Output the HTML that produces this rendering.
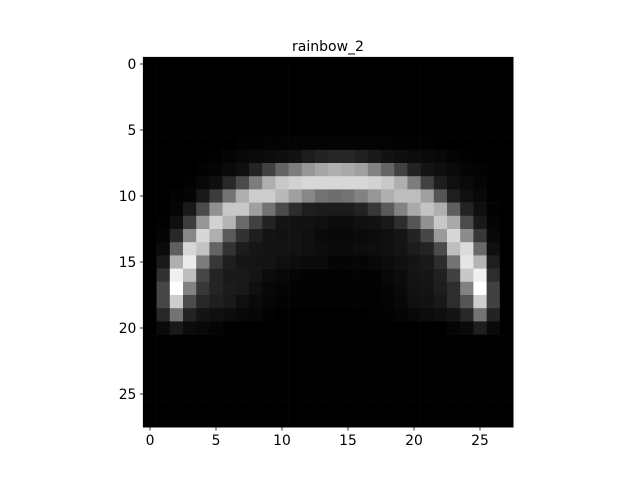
<!DOCTYPE html>
<html><head><meta charset="utf-8"><style>
html,body{margin:0;padding:0;background:#fff;}
svg{display:block;font-family:"DejaVu Sans","Liberation Sans",sans-serif;}
</style></head>
<body>
<svg id="chart" width="640" height="480" viewBox="0 0 640 480" xmlns="http://www.w3.org/2000/svg">
<rect width="640" height="480" fill="#fff"/>
<text x="328" y="51" text-anchor="middle" font-size="14" fill="#000">rainbow_2</text>
<g id="cells"></g>
<g id="xticks"></g>
<g id="yticks"></g>
<rect x="143.4" y="57.4" width="369.6" height="369.6" fill="none" stroke="#000" stroke-width="1"/>
</svg>
<script>
const xTickValues = [0,5,10,15,20,25];
const yTickValues = [0,5,10,15,20,25];
const leftHalf = [
[0,0,0,0,0,0,0,0,0,0,0,0,0,0],
[0,0,0,0,0,0,0,0,0,0,0,0,0,0],
[0,0,0,0,0,0,0,0,0,0,0,0,0,0],
[0,0,0,0,0,0,0,0,0,0,0,0,0,0],
[0,0,0,0,0,0,0,0,0,0,0,0,0,0],
[0,0,0,0,0,0,0,0,0,0,0,0,0,0],
[0,0,0,0,0,0,0,2,2,3,3,4,4,4],
[0,0,0,0,0,2,4,8,10,12,14,18,28,35],
[0,0,0,0,3,5,10,15,35,65,100,125,150,165],
[0,0,0,3,8,15,40,75,125,175,200,210,215,215],
[0,0,3,5,25,60,115,175,205,205,185,160,135,115],
[0,0,5,25,75,145,200,200,160,115,75,45,30,28],
[0,2,15,60,150,210,180,105,65,35,20,18,18,15],
[0,5,40,135,215,175,90,50,30,20,18,18,15,10],
[0,10,95,215,195,100,50,28,22,20,20,18,15,12],
[0,25,175,235,125,55,30,22,20,20,15,12,10,10],
[0,50,240,190,70,35,25,25,20,12,8,5,3,3],
[0,70,255,130,55,35,28,25,15,8,5,3,2,2],
[0,70,205,75,40,30,25,15,10,6,3,2,2,2],
[0,40,115,35,20,15,12,8,6,3,0,0,0,0],
[0,10,25,12,8,5,0,0,0,0,0,0,0,0],
[0,0,0,0,0,0,0,0,0,0,0,0,0,0],
[0,0,0,0,0,0,0,0,0,0,0,0,0,0],
[0,0,0,0,0,0,0,0,0,0,0,0,0,0],
[0,0,0,0,0,0,0,0,0,0,0,0,0,0],
[0,0,0,0,0,0,0,0,0,0,0,0,0,0],
[0,0,0,0,0,0,0,0,0,0,0,0,0,0],
[0,0,0,0,0,0,0,0,0,0,0,0,0,0]
];
const rightHalf = [
[0,0,0,0,0,0,0,0,0,0,0,0,0,0],
[0,0,0,0,0,0,0,0,0,0,0,0,0,0],
[0,0,0,0,0,0,0,0,0,0,0,0,0,0],
[0,0,0,0,0,0,0,0,0,0,0,0,0,0],
[0,0,0,0,0,0,0,0,0,0,0,0,0,0],
[0,0,0,0,0,0,0,0,0,0,0,0,0,0],
[4,4,4,4,3,3,2,2,0,0,0,0,0,0],
[38,38,32,25,18,14,12,10,8,4,2,0,0,0],
[175,170,160,130,100,65,35,20,15,10,5,3,0,0],
[215,215,215,210,200,175,125,65,30,15,10,5,0,0],
[110,115,130,150,175,190,190,160,85,30,15,8,0,0],
[28,28,35,55,90,130,170,195,175,95,35,15,3,0],
[12,12,15,18,25,45,85,145,200,170,75,25,5,0],
[8,8,10,12,15,20,35,70,155,215,140,55,8,0],
[10,10,12,14,16,20,28,35,75,190,220,105,15,0],
[5,5,5,8,12,15,20,25,45,115,230,180,30,0],
[3,3,3,3,8,12,20,22,32,65,200,240,45,0],
[2,2,2,2,5,10,18,20,30,45,130,255,65,0],
[2,2,2,2,4,8,15,18,25,45,85,205,65,0],
[0,0,0,2,3,5,8,12,15,20,40,115,35,0],
[0,0,0,0,0,0,0,0,0,5,10,30,10,0],
[0,0,0,0,0,0,0,0,0,0,0,0,0,0],
[0,0,0,0,0,0,0,0,0,0,0,0,0,0],
[0,0,0,0,0,0,0,0,0,0,0,0,0,0],
[0,0,0,0,0,0,0,0,0,0,0,0,0,0],
[0,0,0,0,0,0,0,0,0,0,0,0,0,0],
[0,0,0,0,0,0,0,0,0,0,0,0,0,0],
[0,0,0,0,0,0,0,0,0,0,0,0,0,0]
];

const NS = "http://www.w3.org/2000/svg";
const X0 = 143.4, Y0 = 57.4, CELL = 13.2;
function xScale(c){ return X0 + (c + 0.5) * CELL; }
function yScale(r){ return Y0 + (r + 0.5) * CELL; }
const grid = leftHalf.map((row, i) => row.concat(rightHalf[i]));
let vmax = 0;
grid.forEach(r => r.forEach(v => { if (v > vmax) vmax = v; }));
const cellsG = document.getElementById('cells');
grid.forEach((row, r) => {
  row.forEach((v, c) => {
    const g = Math.round(255 * v / (vmax || 1));
    const rect = document.createElementNS(NS, 'rect');
    rect.setAttribute('x', (xScale(c) - CELL / 2).toFixed(2));
    rect.setAttribute('y', (yScale(r) - CELL / 2).toFixed(2));
    rect.setAttribute('width', (CELL + 0.3).toFixed(2));
    rect.setAttribute('height', (CELL + 0.3).toFixed(2));
    rect.setAttribute('fill', `rgb(${g},${g},${g})`);
    
    
    cellsG.appendChild(rect);
  });
});
const xg = document.getElementById('xticks');
const bottom = Y0 + 28 * CELL;
xTickValues.forEach(v => {
  const x = xScale(v);
  const l = document.createElementNS(NS, 'line');
  l.setAttribute('x1', x); l.setAttribute('x2', x);
  l.setAttribute('y1', bottom); l.setAttribute('y2', bottom + 3.5);
  l.setAttribute('stroke', '#000'); l.setAttribute('stroke-width', '0.8');
  
  
  xg.appendChild(l);
  const t = document.createElementNS(NS, 'text');
  t.setAttribute('x', x); t.setAttribute('y', bottom + 18);
  t.setAttribute('text-anchor', 'middle'); t.setAttribute('font-size', '13.9');
  t.textContent = v;
  
  
  xg.appendChild(t);
});
const yg = document.getElementById('yticks');
yTickValues.forEach(v => {
  const y = yScale(v);
  const l = document.createElementNS(NS, 'line');
  l.setAttribute('x1', X0 - 3.5); l.setAttribute('x2', X0);
  l.setAttribute('y1', y); l.setAttribute('y2', y);
  l.setAttribute('stroke', '#000'); l.setAttribute('stroke-width', '0.8');
  
  
  yg.appendChild(l);
  const t = document.createElementNS(NS, 'text');
  t.setAttribute('x', X0 - 7); t.setAttribute('y', y + 5);
  t.setAttribute('text-anchor', 'end'); t.setAttribute('font-size', '13.9');
  t.textContent = v;
  
  
  yg.appendChild(t);
});
</script>
</body></html>
